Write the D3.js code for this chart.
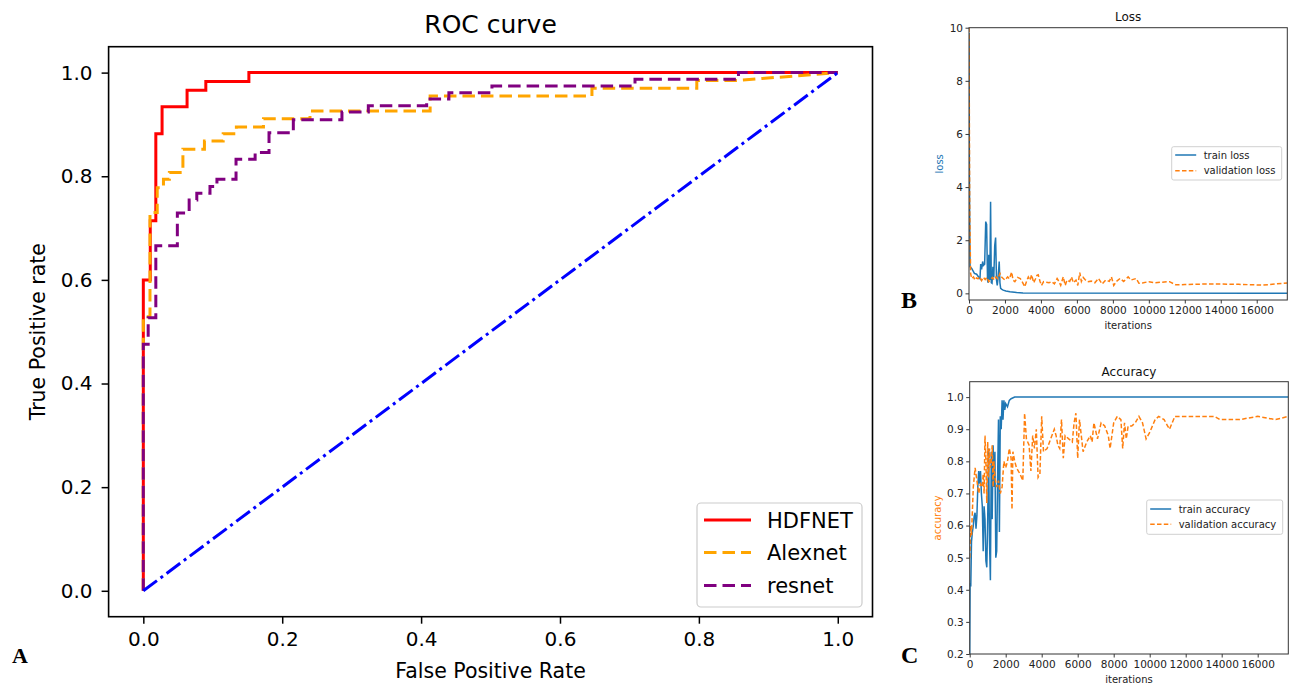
<!DOCTYPE html>
<html>
<head>
<meta charset="utf-8">
<script src="https://cdnjs.cloudflare.com/ajax/libs/d3/7.8.5/d3.min.js"></script>
<style>
  body { margin: 0; background: #ffffff; }
  text { font-family: "DejaVu Sans", sans-serif; }
  .panelLetter { font-family: "Liberation Serif", serif; font-weight: bold; }
</style>
</head>
<body>
<div id="chart"></div>
<script>

// ---- panel A : ROC curve points (false positive rate, true positive rate) ----
var hdfnetFpr = [0, 0, 0.010, 0.010, 0.018, 0.018, 0.027, 0.027, 0.063, 0.063, 0.090, 0.090, 0.152, 0.152, 1];
var hdfnetTpr = [0, 0.600, 0.600, 0.714, 0.714, 0.882, 0.882, 0.934, 0.934, 0.966, 0.966, 0.983, 0.983, 1, 1];

var alexnetFpr = [0, 0, 0.0096, 0.0096, 0.020, 0.020, 0.029, 0.029, 0.0375, 0.0375, 0.057, 0.057, 0.088, 0.088,
  0.115, 0.115, 0.134, 0.134, 0.173, 0.173, 0.240, 0.240, 0.413, 0.413, 0.646, 0.646, 0.797, 0.797, 0.857, 1];
var alexnetTpr = [0, 0.529, 0.529, 0.730, 0.730, 0.778, 0.778, 0.794, 0.794, 0.807, 0.807, 0.852, 0.852, 0.868,
  0.868, 0.882, 0.882, 0.895, 0.895, 0.911, 0.911, 0.926, 0.926, 0.955, 0.955, 0.970, 0.970, 0.985, 0.985, 1];

var resnetFpr = [0, 0, 0.007, 0.007, 0.018, 0.018, 0.049, 0.049, 0.066, 0.066, 0.077, 0.077, 0.096, 0.096,
  0.106, 0.106, 0.1335, 0.1335, 0.161, 0.161, 0.181, 0.181, 0.216, 0.216, 0.286, 0.286, 0.324, 0.324,
  0.408, 0.408, 0.440, 0.440, 0.502, 0.502, 0.708, 0.708, 0.857, 0.857, 1];
var resnetTpr = [0, 0.476, 0.476, 0.527, 0.527, 0.666, 0.666, 0.729, 0.729, 0.754, 0.754, 0.767, 0.767, 0.780,
  0.780, 0.794, 0.794, 0.833, 0.833, 0.846, 0.846, 0.884, 0.884, 0.909, 0.909, 0.924, 0.924, 0.936,
  0.936, 0.949, 0.949, 0.961, 0.961, 0.974, 0.974, 0.987, 0.987, 1, 1];

// chance line
var chanceFpr = [0, 1];
var chanceTpr = [0, 1];

var modelNames = ["HDFNET", "Alexnet", "resnet"];
var rocTicks = [0, 0.2, 0.4, 0.6, 0.8, 1.0];

// ---- panel B : loss per iteration ----
var trainLossIter = [0, 20, 60, 150, 300, 425, 550, 610, 650, 700, 760, 800, 870, 930, 980, 1030, 1070, 1100,
  1130, 1160, 1200, 1240, 1280, 1330, 1380, 1430, 1480, 1530, 1570, 1620, 1680, 1720, 1760, 1830, 1900,
  2050, 2280, 2650, 3000, 17700];
var trainLoss = [9.8, 4.5, 1.0, 0.94, 0.75, 0.72, 0.60, 0.55, 1.10, 0.90, 1.20, 1.05, 1.10, 2.70, 2.60, 0.50,
  0.40, 1.45, 1.00, 0.50, 3.45, 0.40, 0.38, 1.00, 0.60, 1.80, 2.10, 0.50, 0.30, 0.60, 1.20, 0.40, 0.19,
  0.15, 0.12, 0.09, 0.06, 0.03, 0.01, 0.0];

var valLossIter = [0, 40, 90, 150, 250, 330, 420, 500, 600, 700, 800, 900, 1000, 1100, 1200, 1300, 1400, 1500,
  1600, 1720, 1800, 1900, 2000, 2150, 2250, 2370, 2450, 2550, 2700, 2850, 2950, 3100, 3200, 3300, 3400,
  3480, 3600, 3700, 3780, 3850, 3950, 4030, 4150, 4300, 4450, 4600, 4750, 4900, 5000, 5100, 5240, 5350,
  5450, 5600, 5700, 5800, 5950, 6050, 6160, 6250, 6350, 6450, 6600, 6800, 7000, 7200, 7400, 7600, 7800,
  7920, 8050, 8200, 8400, 8600, 8850, 9000, 9300, 9450, 9700, 10000, 10300, 10700, 11150, 11500, 12000,
  13000, 14000, 15000, 16300, 17000, 17700];
var valLoss = [10, 3.0, 0.75, 0.56, 0.62, 0.50, 0.58, 0.55, 0.62, 0.48, 0.60, 0.52, 0.60, 0.44, 0.52, 0.60,
  0.50, 0.62, 0.55, 0.75, 0.62, 0.56, 0.50, 0.62, 0.55, 0.80, 0.50, 0.44, 0.60, 0.56, 0.45, 0.25, 0.45,
  0.62, 0.50, 0.70, 0.40, 0.55, 0.68, 0.70, 0.45, 0.30, 0.44, 0.42, 0.40, 0.44, 0.36, 0.56, 0.45, 0.30,
  0.62, 0.30, 0.50, 0.45, 0.62, 0.40, 0.50, 0.30, 0.78, 0.45, 0.60, 0.52, 0.44, 0.46, 0.40, 0.56, 0.35,
  0.50, 0.45, 0.62, 0.30, 0.45, 0.56, 0.45, 0.62, 0.50, 0.56, 0.38, 0.40, 0.44, 0.40, 0.42, 0.44, 0.32,
  0.33, 0.35, 0.35, 0.34, 0.31, 0.35, 0.39];

// ---- panel C : accuracy per iteration ----
var trainAccIter = [0, 20, 60, 100, 150, 200, 250, 300, 350, 400, 450, 500, 550, 600, 650, 700, 750, 800, 850,
  900, 950, 1000, 1050, 1100, 1150, 1200, 1250, 1300, 1350, 1400, 1450, 1500, 1550, 1600, 1650, 1700,
  1750, 1800, 1850, 1900, 1950, 2000, 2100, 2200, 2300, 2500, 3000, 17700];
var trainAcc = [0.20, 0.42, 0.41, 0.55, 0.58, 0.60, 0.63, 0.64, 0.59, 0.63, 0.72, 0.77, 0.73, 0.77, 0.70, 0.66,
  0.52, 0.66, 0.62, 0.49, 0.47, 0.62, 0.84, 0.55, 0.43, 0.83, 0.62, 0.85, 0.72, 0.83, 0.50, 0.52, 0.75,
  0.93, 0.58, 0.94, 0.90, 0.99, 0.93, 0.99, 0.96, 0.98, 0.97, 0.99, 0.995, 1.0, 1.0, 1.0];

var valAccIter = [0, 50, 100, 200, 300, 400, 500, 600, 700, 750, 800, 850, 900, 950, 1000, 1050, 1100, 1150,
  1200, 1250, 1300, 1350, 1400, 1500, 1600, 1700, 1800, 1900, 2000, 2100, 2200, 2300, 2350, 2400, 2500,
  2600, 2800, 2950, 3050, 3150, 3300, 3400, 3500, 3600, 3700, 3800, 3900, 4000, 4100, 4300, 4500, 4700,
  4800, 4900, 5000, 5100, 5200, 5300, 5500, 5700, 5800, 5900, 6000, 6100, 6300, 6500, 6700, 6800, 6900,
  7100, 7300, 7500, 7700, 7800, 8000, 8200, 8400, 8500, 8600, 8700, 8800, 9000, 9200, 9400, 9600, 9800,
  10000, 10300, 10500, 10800, 11000, 11100, 11400, 12000, 13000, 13600, 13900, 14500, 15000, 16000,
  16500, 17000, 17700];
var valAcc = [0.50, 0.60, 0.57, 0.72, 0.78, 0.74, 0.70, 0.73, 0.72, 0.76, 0.70, 0.88, 0.80, 0.67, 0.86, 0.75,
  0.84, 0.78, 0.80, 0.85, 0.72, 0.80, 0.75, 0.72, 0.74, 0.70, 0.72, 0.80, 0.78, 0.80, 0.84, 0.81, 0.65,
  0.83, 0.80, 0.78, 0.76, 0.74, 0.95, 0.87, 0.85, 0.77, 0.88, 0.84, 0.90, 0.75, 0.76, 0.94, 0.83, 0.84,
  0.87, 0.90, 0.88, 0.85, 0.84, 0.93, 0.81, 0.88, 0.87, 0.86, 0.92, 0.95, 0.81, 0.93, 0.83, 0.86, 0.88,
  0.86, 0.92, 0.87, 0.92, 0.91, 0.88, 0.84, 0.92, 0.94, 0.93, 0.84, 0.92, 0.87, 0.91, 0.91, 0.92, 0.94,
  0.92, 0.87, 0.89, 0.93, 0.94, 0.93, 0.91, 0.90, 0.94, 0.94, 0.94, 0.94, 0.93, 0.93, 0.93, 0.94, 0.935,
  0.93, 0.94];

var iterTicks = [0, 2000, 4000, 6000, 8000, 10000, 12000, 14000, 16000];
var lossTicks = [0, 2, 4, 6, 8, 10];
var accTicks = [0.2, 0.3, 0.4, 0.5, 0.6, 0.7, 0.8, 0.9, 1.0];
var iterMax = 17700;

// svg container
var svgWidth = 1295;
var svgHeight = 684;

var svg = d3.select("#chart").append("svg")
  .attr("width", svgWidth)
  .attr("height", svgHeight)
  .style("background", "#ffffff");

// =====================  A : ROC curve  =====================
var rocBox = { left: 108.6, top: 46.7, right: 872.5, bottom: 616.7 };

var xRoc = d3.scaleLinear()
  .domain([-0.05, 1.05])
  .range([rocBox.left, rocBox.right]);

var yRoc = d3.scaleLinear()
  .domain([-0.05, 1.05])
  .range([rocBox.bottom, rocBox.top]);

var rocGroup = svg.append("g");

// axes
var rocBottom = d3.axisBottom(xRoc)
  .tickValues(rocTicks)
  .tickFormat(d3.format(".1f"))
  .tickSize(7)
  .tickPadding(8.5);

var rocLeft = d3.axisLeft(yRoc)
  .tickValues(rocTicks)
  .tickFormat(d3.format(".1f"))
  .tickSize(7)
  .tickPadding(9);

var rocX = rocGroup.append("g")
  .attr("transform", `translate(0, ${rocBox.bottom})`)
  .call(rocBottom);

var rocY = rocGroup.append("g")
  .attr("transform", `translate(${rocBox.left}, 0)`)
  .call(rocLeft);

[rocX, rocY].forEach(function(g) {
  g.select(".domain").remove();
  g.selectAll(".tick line").attr("stroke", "#000").attr("stroke-width", 1.5);
  g.selectAll(".tick text")
    .attr("fill", "#000")
    .attr("font-family", "DejaVu Sans")
    .attr("font-size", 20);
});

// curves
var rocLine = d3.line()
  .x(d => xRoc(d[0]))
  .y(d => yRoc(d[1]));

var rocSeries = [
  { fpr: hdfnetFpr, tpr: hdfnetTpr, color: "#ff0000", dash: null },
  { fpr: alexnetFpr, tpr: alexnetTpr, color: "#ffa500", dash: "12.5,6" },
  { fpr: resnetFpr, tpr: resnetTpr, color: "#800080", dash: "12.5,6" },
  { fpr: chanceFpr, tpr: chanceTpr, color: "#0000ff", dash: "17,4.5,3,4.5" }
];

rocSeries.forEach(function(s) {
  var pts = s.fpr.map((f, i) => [f, s.tpr[i]]);
  rocGroup.append("path")
    .datum(pts)
    .attr("d", rocLine)
    .attr("fill", "none")
    .attr("stroke", s.color)
    .attr("stroke-width", 3)
    .attr("stroke-dasharray", s.dash);
});

// frame
rocGroup.append("rect")
  .attr("x", rocBox.left)
  .attr("y", rocBox.top)
  .attr("width", rocBox.right - rocBox.left)
  .attr("height", rocBox.bottom - rocBox.top)
  .attr("fill", "none")
  .attr("stroke", "#000")
  .attr("stroke-width", 1.6);

// title and axis titles
rocGroup.append("text")
  .attr("x", (rocBox.left + rocBox.right) / 2)
  .attr("y", 33)
  .attr("text-anchor", "middle")
  .attr("font-size", 25)
  .text("ROC curve");

rocGroup.append("text")
  .attr("x", (rocBox.left + rocBox.right) / 2)
  .attr("y", 678)
  .attr("text-anchor", "middle")
  .attr("font-size", 20.5)
  .text("False Positive Rate");

rocGroup.append("text")
  .attr("transform", `translate(45, ${(rocBox.top + rocBox.bottom) / 2}) rotate(-90)`)
  .attr("text-anchor", "middle")
  .attr("font-size", 20.5)
  .text("True Positive rate");

// legend
var rocLegend = rocGroup.append("g");
rocLegend.append("rect")
  .attr("x", 697)
  .attr("y", 503)
  .attr("width", 165)
  .attr("height", 104)
  .attr("rx", 4)
  .attr("fill", "#ffffff")
  .attr("fill-opacity", 0.8)
  .attr("stroke", "#cccccc")
  .attr("stroke-width", 1.2);

var legendRows = [520, 552.5, 585.5];
modelNames.forEach(function(name, i) {
  rocLegend.append("line")
    .attr("x1", 704).attr("x2", 751)
    .attr("y1", legendRows[i]).attr("y2", legendRows[i])
    .attr("stroke", rocSeries[i].color)
    .attr("stroke-width", 3)
    .attr("stroke-dasharray", rocSeries[i].dash);
  rocLegend.append("text")
    .attr("x", 767)
    .attr("y", legendRows[i] + 7.7)
    .attr("font-size", 21)
    .text(name);
});

svg.append("text")
  .attr("class", "panelLetter")
  .attr("x", 12)
  .attr("y", 662.5)
  .attr("font-size", 22)
  .text("A");

// =====================  B and C : training curves  =====================
function drawPanel(p) {
  var x = d3.scaleLinear().domain([0, iterMax]).range([p.left, p.right]);
  var y = d3.scaleLinear().domain(p.yDomain).range([p.bottom, p.top]);
  var g = svg.append("g");

  var defsId = "clip" + p.letter;
  g.append("clipPath").attr("id", defsId)
    .append("rect")
    .attr("x", p.left).attr("y", p.top)
    .attr("width", p.right - p.left).attr("height", p.bottom - p.top);

  var xAxis = g.append("g")
    .attr("transform", `translate(0, ${p.bottom})`)
    .call(d3.axisBottom(x).tickValues(iterTicks).tickFormat(d3.format("d")).tickSize(3.5).tickPadding(3));
  var yAxis = g.append("g")
    .attr("transform", `translate(${p.left}, 0)`)
    .call(d3.axisLeft(y).tickValues(p.yTicks).tickFormat(p.yFormat).tickSize(3.5).tickPadding(2.5));

  [xAxis, yAxis].forEach(function(a) {
    a.select(".domain").remove();
    a.selectAll(".tick line").attr("stroke", "#222").attr("stroke-width", 0.9);
    a.selectAll(".tick text")
      .attr("fill", "#222")
      .attr("font-family", "DejaVu Sans")
      .attr("font-size", 10.5);
  });

  var line = d3.line()
    .x(d => x(d[0]))
    .y(d => y(d[1]));

  p.series.forEach(function(s) {
    g.append("path")
      .datum(s.iters.map((it, i) => [it, s.values[i]]))
      .attr("clip-path", `url(#${defsId})`)
      .attr("d", line)
      .attr("fill", "none")
      .attr("stroke", s.color)
      .attr("stroke-width", 1.5)
      .attr("stroke-dasharray", s.dash);
  });

  g.append("rect")
    .attr("x", p.left).attr("y", p.top)
    .attr("width", p.right - p.left).attr("height", p.bottom - p.top)
    .attr("fill", "none")
    .attr("stroke", "#333")
    .attr("stroke-width", 1);

  var cx = (p.left + p.right) / 2;
  g.append("text")
    .attr("x", cx).attr("y", p.titleY)
    .attr("text-anchor", "middle")
    .attr("font-size", 12)
    .attr("fill", "#111")
    .text(p.title);

  g.append("text")
    .attr("x", cx).attr("y", p.xLabelY)
    .attr("text-anchor", "middle")
    .attr("font-size", 10)
    .attr("fill", "#222")
    .text("iterations");

  g.append("text")
    .attr("transform", `translate(${p.yLabelX}, ${(p.top + p.bottom) / 2}) rotate(-90)`)
    .attr("text-anchor", "middle")
    .attr("font-size", 10)
    .attr("fill", p.yLabelColor)
    .text(p.yLabel);

  // legend
  var lg = g.append("g");
  lg.append("rect")
    .attr("x", p.legend.x).attr("y", p.legend.y)
    .attr("width", p.legend.w).attr("height", p.legend.h)
    .attr("rx", 2)
    .attr("fill", "#fff").attr("fill-opacity", 0.8)
    .attr("stroke", "#d0d0d0").attr("stroke-width", 1);
  p.series.forEach(function(s, i) {
    var ry = p.legend.rows[i];
    lg.append("line")
      .attr("x1", p.legend.x + 3.5).attr("x2", p.legend.x + 24.5)
      .attr("y1", ry).attr("y2", ry)
      .attr("stroke", s.color)
      .attr("stroke-width", 1.5)
      .attr("stroke-dasharray", s.dash);
    lg.append("text")
      .attr("x", p.legend.x + 32)
      .attr("y", ry + 3.7)
      .attr("font-size", 10)
      .attr("fill", "#222")
      .text(s.label);
  });

  svg.append("text")
    .attr("class", "panelLetter")
    .attr("x", 901)
    .attr("y", p.letterY)
    .attr("font-size", 24)
    .text(p.letter);
}

drawPanel({
  letter: "B", letterY: 308,
  left: 969, right: 1287.3, top: 27.7, bottom: 300,
  yDomain: [-0.25, 10], yTicks: lossTicks, yFormat: d3.format("d"),
  title: "Loss", titleY: 20.5, xLabelY: 328.5,
  yLabel: "loss", yLabelX: 942.5, yLabelColor: "#1f77b4",
  legend: { x: 1171.7, y: 146.7, w: 110, h: 33.3, rows: [155, 170.7] },
  series: [
    { iters: trainLossIter, values: trainLoss, color: "#1f77b4", dash: null, label: "train loss" },
    { iters: valLossIter, values: valLoss, color: "#ff7f0e", dash: "4.5,2.3", label: "validation loss" }
  ]
});

drawPanel({
  letter: "C", letterY: 663,
  left: 969.7, right: 1288.3, top: 381.7, bottom: 654,
  yDomain: [0.2, 1.048], yTicks: accTicks, yFormat: d3.format(".1f"),
  title: "Accuracy", titleY: 375.5, xLabelY: 682.5,
  yLabel: "accuracy", yLabelX: 940.5, yLabelColor: "#ff7f0e",
  legend: { x: 1146.7, y: 500, w: 136, h: 34.3, rows: [509, 524.3] },
  series: [
    { iters: trainAccIter, values: trainAcc, color: "#1f77b4", dash: null, label: "train accuracy" },
    { iters: valAccIter, values: valAcc, color: "#ff7f0e", dash: "4.5,2.3", label: "validation accuracy" }
  ]
});

</script>
</body>
</html>
